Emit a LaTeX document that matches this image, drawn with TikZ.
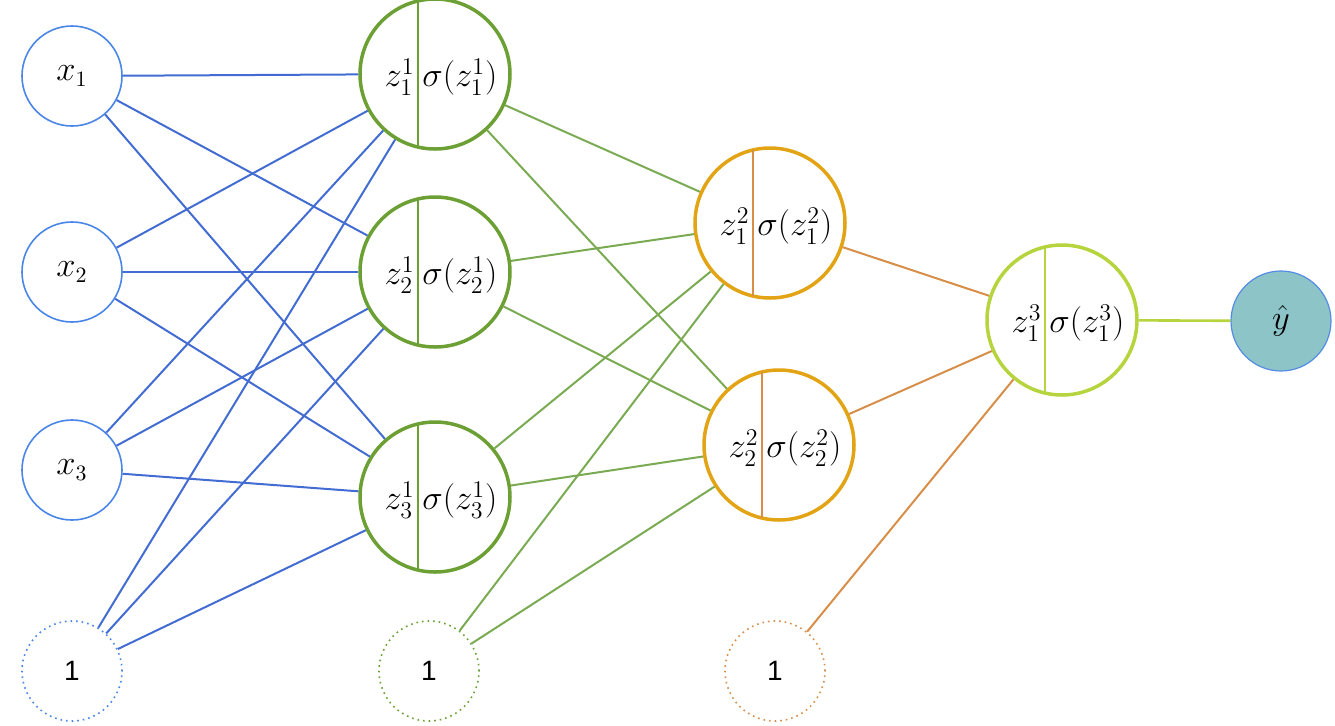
\documentclass[tikz,border=0pt]{standalone}
\usepackage{fontspec}
\newfontfamily\sansone{Liberation Sans}
\usetikzlibrary{calc}
\definecolor{inblue}{RGB}{74,134,232}
\definecolor{edgeblue}{RGB}{66,108,210}
\definecolor{hgreen}{RGB}{108,160,52}
\definecolor{egreen}{RGB}{122,170,82}
\definecolor{hgold}{RGB}{226,164,20}
\definecolor{eorange}{RGB}{214,142,72}
\definecolor{hlime}{RGB}{182,212,62}
\definecolor{tealfill}{RGB}{140,196,200}
\definecolor{yborder}{RGB}{84,140,228}
\tikzset{
  inp/.style={circle,draw=inblue,line width=0.8pt,minimum size=50pt,inner sep=0pt,font=\fontsize{16}{18}\selectfont},
  biasnode/.style={circle,dotted,line width=0.8pt,minimum size=50pt,inner sep=0pt,font=\fontsize{14}{16}\selectfont\sansone},
  hid/.style={circle,line width=1.75pt,minimum size=75pt,inner sep=0pt,fill=white},
  lab/.style={inner sep=0pt,font=\fontsize{18}{21}\selectfont},
  wire/.style={line width=1pt},
}
\newcommand\neuron[7]{%
  \node[hid,draw=#4] (#1) at (#2,#3) {};
  \draw[#5,line width=1pt] ($(#1.center)+(-17,-73)$) -- ($(#1.center)+(-17,73)$);
  \node[lab,anchor=east] (#1z) at ($(#1.center)+(-20,3)$) {$#6$};
  \node[lab,anchor=west] (#1s) at ($(#1.center)+(-13,3)$) {$#7$};
}
\begin{document}
\begin{tikzpicture}[x=0.5pt,y=-0.5pt]
\useasboundingbox (0,0) rectangle (1335,725);
% inputs
\node[inp] (x1) at (72,76) {$x_1$};
\node[inp] (x2) at (72,272) {$x_2$};
\node[inp] (x3) at (72,470) {$x_3$};
\node[biasnode,draw=inblue] (b1) at (72,671) {1};
\node[biasnode,draw=hgreen] (b2) at (429,671) {1};
\node[biasnode,draw=eorange] (b3) at (775,671) {1};
% neurons
\neuron{h11}{435}{74}{hgreen}{hgreen}{z_1^1}{\sigma(z_1^1)}
\neuron{h21}{435}{272}{hgreen}{hgreen}{z_2^1}{\sigma(z_2^1)}
\neuron{h31}{435}{497}{hgreen}{hgreen}{z_3^1}{\sigma(z_3^1)}
\neuron{h12}{770}{223}{hgold}{eorange}{z_1^2}{\sigma(z_1^2)}
\neuron{h22}{779}{445}{hgold}{eorange}{z_2^2}{\sigma(z_2^2)}
\neuron{h13}{1062}{320}{hlime}{hlime}{z_1^3}{\sigma(z_1^3)}
\node[circle,minimum size=50pt,inner sep=0pt,fill=tealfill,draw=yborder,line width=0.6pt,font=\fontsize{16}{18}\selectfont] (yh) at (1281,321) {$\hat{y}$};
% edges
\foreach \s in {x1,x2,x3,b1}
  \foreach \t in {h11,h21,h31}
    \draw[wire,edgeblue] (\s) -- (\t);
\foreach \s in {h11,h21,h31,b2}
  \foreach \t in {h12,h22}
    \draw[wire,egreen] (\s) -- (\t);
\foreach \s in {h12,h22,b3}
  \draw[wire,eorange] (\s) -- (h13);
\draw[wire,hlime,line width=1.3pt] (h13) -- (yh);
\end{tikzpicture}
\end{document}
